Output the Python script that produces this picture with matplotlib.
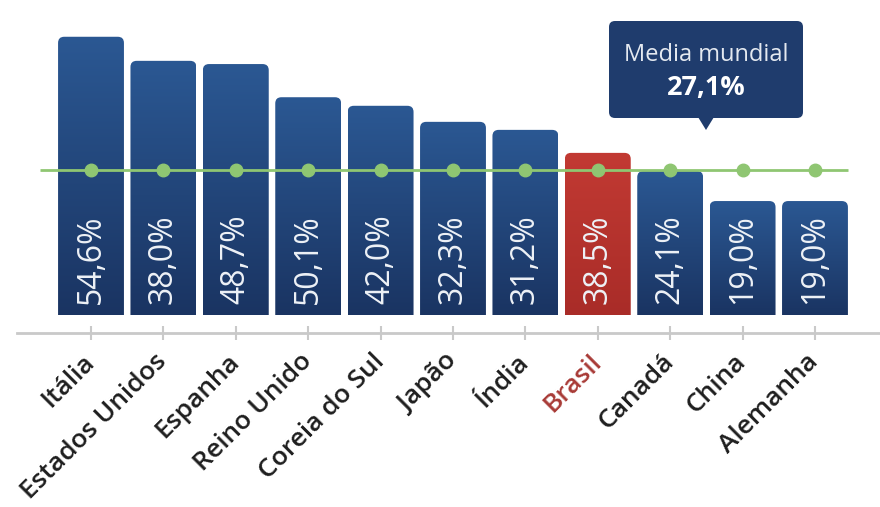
import numpy as np
import matplotlib
matplotlib.use('Agg')
import matplotlib.pyplot as plt
from matplotlib.patches import FancyBboxPatch, Polygon
from matplotlib.colors import LinearSegmentedColormap

plt.rcParams['font.family'] = ['Open Sans', 'DejaVu Sans']

# Dados
paises = ['Itália', 'Estados Unidos', 'Espanha', 'Reino Unido', 'Coreia do Sul',
          'Japão', 'Índia', 'Brasil', 'Canadá', 'China', 'Alemanha']
rotulos = ['54,6%', '38,0%', '48,7%', '50,1%', '42,0%', '32,3%', '31,2%',
           '38,5%', '24,1%', '19,0%', '19,0%']
# altura desenhada de cada barra (mesma escala da media mundial)
alturas = [52.0, 47.5, 46.9, 40.7, 39.1, 36.1, 34.6, 30.3, 26.9, 21.3, 21.3]
media_mundial = 27.1
destaque = 'Brasil'

# Cores
AZUL_TOPO, AZUL_BASE = '#2b5893', '#1a3462'
VERM_TOPO, VERM_BASE = '#c23a33', '#a92c28'
VERDE = '#8fc672'
CINZA = '#c9c9c9'


def barra_gradiente(ax, x, h, largura, cor_topo, cor_base):
    """Barra com cantos superiores arredondados e degradê vertical"""
    raio_x = 0.085
    caixa = FancyBboxPatch((x - largura / 2, -3), largura, h + 3,
                           boxstyle=f"round,pad=0,rounding_size={raio_x}",
                           mutation_aspect=13.5, facecolor='none',
                           edgecolor='none')
    ax.add_patch(caixa)
    grad = np.linspace(0, 1, 256).reshape(-1, 1)
    cmap = LinearSegmentedColormap.from_list('g', [cor_base, cor_topo])
    ax.imshow(grad, extent=[x - largura / 2, x + largura / 2, 0, h],
              origin='lower', cmap=cmap, aspect='auto', clip_path=caixa,
              zorder=2)


fig = plt.figure(figsize=(8.8, 5.07), dpi=100)
ax = fig.add_axes([0, 174 / 507, 1, 333 / 507])

posicoes = np.arange(len(paises))
largura = 0.91
for x, h, p in zip(posicoes, alturas, paises):
    if p == destaque:
        barra_gradiente(ax, x, h, largura, VERM_TOPO, VERM_BASE)
    else:
        barra_gradiente(ax, x, h, largura, AZUL_TOPO, AZUL_BASE)

# rótulos dentro das barras
for x, r in zip(posicoes, rotulos):
    ax.text(x, 2.1, r, rotation=90, ha='center', va='bottom',
            color='#eef2f7', fontsize=23, zorder=4)

# linha da media mundial
ax.hlines(media_mundial, posicoes[0] - 0.7, posicoes[-1] + 0.45,
          color=VERDE, lw=2, zorder=5)
ax.plot(posicoes, [media_mundial] * len(posicoes), 'o', ms=9,
        color=VERDE, zorder=6)

ax.set_xlim(-1.257, 10.898)
ax.set_ylim(-3.36, 58.87)

ax.set_xticks(posicoes)
ax.set_xticklabels(paises, rotation=45, ha='right', va='center',
                   rotation_mode='anchor', fontsize=19, fontweight='semibold',
                   color='#1e1e1e')
for lab in ax.get_xticklabels():
    if lab.get_text() == destaque:
        lab.set_color('#a83a36')
ax.tick_params(axis='x', direction='inout', length=10, width=1.5,
               color=CINZA, pad=13)
ax.set_yticks([])
for lado in ['top', 'right', 'left']:
    ax.spines[lado].set_visible(False)
ax.spines['bottom'].set_color(CINZA)
ax.spines['bottom'].set_linewidth(2)
ax.spines['bottom'].set_bounds(-1.02, 10.898)

# caixa da media mundial (coordenadas em pixels)
ax2 = fig.add_axes([0, 0, 1, 1])
ax2.set_xlim(0, 880)
ax2.set_ylim(507, 0)
ax2.axis('off')
ax2.add_patch(FancyBboxPatch((609, 21), 194, 97,
                             boxstyle="round,pad=0,rounding_size=6",
                             facecolor='#1f3c6d', edgecolor='none'))
ax2.add_patch(Polygon([(698, 117), (714, 117), (706, 130)],
                      closed=True, facecolor='#1f3c6d', edgecolor='none'))
ax2.text(706, 55, 'Media mundial', ha='center', va='center',
         color='#e4e9f0', fontsize=17)
ax2.text(706, 88, '27,1%', ha='center', va='center', color='white',
         fontsize=19.5, fontweight='bold')

fig.savefig('out.png', dpi=100)
